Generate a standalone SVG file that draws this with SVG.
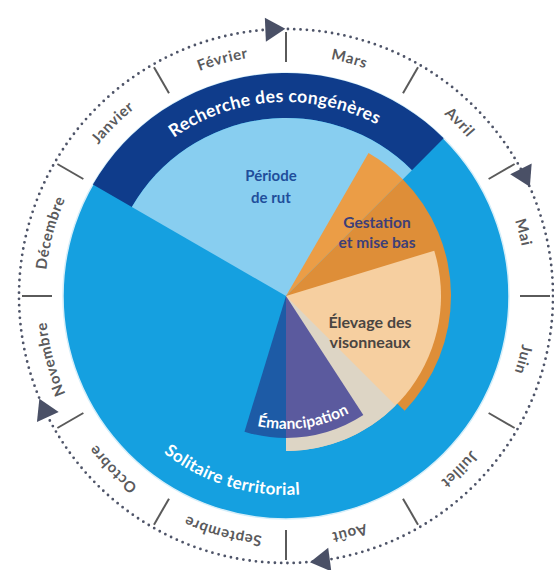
<svg xmlns="http://www.w3.org/2000/svg" xmlns:xlink="http://www.w3.org/1999/xlink" width="554" height="570" viewBox="0 0 554 570">
<defs>
<style>
.month{font-family:Lato,"Open Sans","DejaVu Sans",sans-serif;font-size:15px;font-weight:bold;fill:#5a5a5c;letter-spacing:0.6px}
.lbl{font-family:Lato,"Open Sans","DejaVu Sans",sans-serif;font-weight:bold;text-anchor:middle}
.arc{font-family:Lato,"Open Sans","DejaVu Sans",sans-serif;font-weight:bold;fill:#ffffff}
.tick{stroke:#5a5a5a;stroke-width:2}
.arrow{fill:#4a5066}
</style>
<path id="mpath" d="M286,55 A241,241 0 1 1 286,537 A241,241 0 1 1 286,55"/>
<path id="toparc" d="M92,296 A194,194 0 0 1 480,296"/>
<path id="botarc" d="M87,296 A199,199 0 0 0 485,296"/>
<path id="emarc" d="M153,296 A133,133 0 0 0 419,296"/>
<line id="tk" class="tick" x1="286" y1="62" x2="286" y2="32"/>
<polygon id="arr" class="arrow" points="277,17 277,41 297,29"/>
</defs>
<rect width="554" height="570" fill="#ffffff"/>

<g id="calendar-ring">
<circle cx="286" cy="296" r="267" fill="none" stroke="#4e5468" stroke-width="2.8" stroke-linecap="round" stroke-dasharray="0 6.33"/>
<g id="ticks">
<use xlink:href="#tk"/>
<use xlink:href="#tk" transform="rotate(30 286 296)"/>
<use xlink:href="#tk" transform="rotate(60 286 296)"/>
<use xlink:href="#tk" transform="rotate(90 286 296)"/>
<use xlink:href="#tk" transform="rotate(120 286 296)"/>
<use xlink:href="#tk" transform="rotate(150 286 296)"/>
<use xlink:href="#tk" transform="rotate(180 286 296)"/>
<use xlink:href="#tk" transform="rotate(210 286 296)"/>
<use xlink:href="#tk" transform="rotate(240 286 296)"/>
<use xlink:href="#tk" transform="rotate(270 286 296)"/>
<use xlink:href="#tk" transform="rotate(300 286 296)"/>
<use xlink:href="#tk" transform="rotate(330 286 296)"/>
</g>
<g id="arrows">
<use xlink:href="#arr" transform="rotate(-2.5 286 296)"/>
<use xlink:href="#arr" transform="rotate(63.5 286 296)"/>
<use xlink:href="#arr" transform="rotate(172.5 286 296)"/>
<use xlink:href="#arr" transform="rotate(245 286 296)"/>
</g>
<g id="months">
<text class="month"><textPath xlink:href="#mpath" startOffset="4.17%" text-anchor="middle">Mars</textPath></text>
<text class="month"><textPath xlink:href="#mpath" startOffset="12.5%" text-anchor="middle">Avril</textPath></text>
<text class="month"><textPath xlink:href="#mpath" startOffset="20.83%" text-anchor="middle">Mai</textPath></text>
<text class="month"><textPath xlink:href="#mpath" startOffset="29.17%" text-anchor="middle">Juin</textPath></text>
<text class="month"><textPath xlink:href="#mpath" startOffset="37.5%" text-anchor="middle">Juillet</textPath></text>
<text class="month"><textPath xlink:href="#mpath" startOffset="45.83%" text-anchor="middle">Août</textPath></text>
<text class="month"><textPath xlink:href="#mpath" startOffset="54.17%" text-anchor="middle">Septembre</textPath></text>
<text class="month"><textPath xlink:href="#mpath" startOffset="62.5%" text-anchor="middle">Octobre</textPath></text>
<text class="month"><textPath xlink:href="#mpath" startOffset="70.83%" text-anchor="middle">Novembre</textPath></text>
<text class="month"><textPath xlink:href="#mpath" startOffset="79.17%" text-anchor="middle">Décembre</textPath></text>
<text class="month"><textPath xlink:href="#mpath" startOffset="87.5%" text-anchor="middle">Janvier</textPath></text>
<text class="month"><textPath xlink:href="#mpath" startOffset="95.83%" text-anchor="middle">Février</textPath></text>
</g>
</g>

<g id="solitaire-territorial">
<circle cx="286" cy="296" r="223" fill="#15a0e0" stroke="#d6eef9" stroke-width="1.5"/>
<text class="arc" font-size="17"><textPath xlink:href="#botarc" startOffset="40.56%" text-anchor="middle" textLength="146" lengthAdjust="spacing">Solitaire territorial</textPath></text>
</g>

<g id="recherche-congeneres">
<path d="M92.88,184.5 A223,223 0 0 1 443.68,138.32 L411.86,170.14 A178,178 0 0 0 131.85,207 Z" fill="#0f3c8b"/>
<text class="arc" font-size="17.5"><textPath xlink:href="#toparc" startOffset="47.94%" text-anchor="middle" textLength="214" lengthAdjust="spacing">Recherche des congénères</textPath></text>
</g>

<g id="periode-de-rut">
<path d="M286,296 L131.85,207 A178,178 0 0 1 411.86,170.14 Z" fill="#88cef0"/>
<text class="lbl" font-size="15" fill="#1f4e9b"><tspan x="271" y="181">Période</tspan><tspan x="271" y="203">de rut</tspan></text>
</g>

<g id="gestation">
<path d="M286,296 L402.67,179.33 A165,165 0 0 1 404.69,410.63 Z" fill="#de8e38"/>
<path d="M286,296 L368.5,153.11 A165,165 0 0 1 402.67,179.33 Z" fill="#eb9d46"/>
<text class="lbl" font-size="15.5" fill="#3d3f78"><tspan x="377" y="228">Gestation</tspan><tspan x="377" y="248">et mise bas</tspan></text>
</g>

<g id="elevage">
<path d="M286,296 L434.23,250.68 A155,155 0 0 1 286,451 Z" fill="#f6cfa0"/>
<path d="M286,296 L395.6,405.6 A155,155 0 0 1 286,451 Z" fill="#ddd5c5"/>
<text class="lbl" font-size="16" fill="#4a4542"><tspan x="370" y="328">Élevage des</tspan><tspan x="370" y="348">visonneaux</tspan></text>
</g>

<g id="emancipation">
<path d="M286,296 L363.34,415.1 A142,142 0 0 1 286,438 Z" fill="#5b5a9e"/>
<path d="M286,296 L286,438 A142,142 0 0 1 244.48,431.8 Z" fill="#1d5ba6"/>
<text class="arc" font-size="15.5"><textPath xlink:href="#emarc" startOffset="54.4%" text-anchor="middle" textLength="95" lengthAdjust="spacing">Émancipation</textPath></text>
</g>
</svg>
